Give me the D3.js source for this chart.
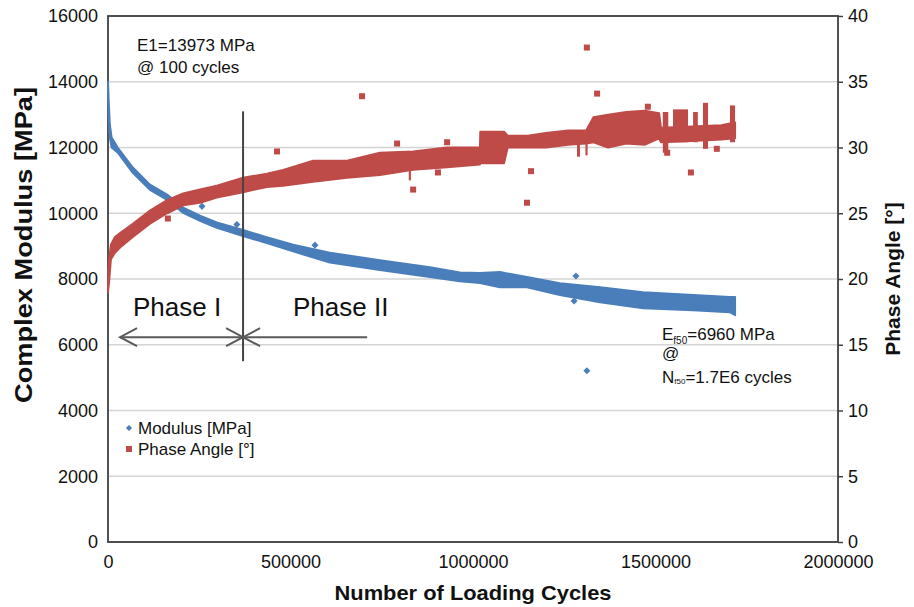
<!DOCTYPE html>
<html>
<head>
<meta charset="utf-8">
<script src="https://cdn.jsdelivr.net/npm/d3@7"></script>
<style>
  html, body { margin: 0; padding: 0; background: #fff; }
  svg text { font-family: "Liberation Sans", Arial, sans-serif; fill: #111; }
</style>
</head>
<body>
<svg id="chart" width="914" height="607"></svg>
<script>
// Fatigue test: complex modulus + phase angle vs loading cycles

// axis ticks
const cycleTicks = [0, 500000, 1000000, 1500000, 2000000];
const modulusTicks = [0, 2000, 4000, 6000, 8000, 10000, 12000, 14000, 16000];
const angleTicks = [0, 5, 10, 15, 20, 25, 30, 35, 40];

// modulus band: [cycles, low MPa, high MPa]
const modulusBand = [
    [0, 13700, 14000], [2000, 12900, 13400], [5000, 12300, 12700],
    [10000, 12000, 12300], [27000, 11840, 11990], [68000, 11230, 11390],
    [115000, 10710, 10870], [162000, 10410, 10570], [206000, 10010, 10170],
    [252000, 9770, 9930], [298000, 9560, 9720], [370000, 9310, 9490],
    [435000, 9090, 9270], [507000, 8840, 9040], [608000, 8500, 8800],
    [745000, 8270, 8570], [882000, 8060, 8360], [964000, 7930, 8200],
    [1019000, 7880, 8180], [1074000, 7750, 8210], [1148000, 7750, 8060],
    [1238000, 7510, 7870], [1348000, 7290, 7750], [1466000, 7110, 7600],
    [1603000, 7050, 7510], [1704000, 6990, 7450], [1718000, 6900, 7450]
];

// phase angle band: [cycles, low deg, high deg]
const phaseBand = [
    [0, 19.0, 19.6], [3000, 19.8, 21.5], [8000, 21.5, 22.6],
    [19000, 22.0, 23.2], [33000, 22.4, 23.5], [68000, 23.2, 24.2],
    [115000, 24.2, 25.2], [162000, 25.0, 26.0], [206000, 25.6, 26.5],
    [252000, 25.8, 26.8], [298000, 26.2, 27.1], [370000, 26.6, 27.7],
    [435000, 27.0, 28.0], [480000, 27.1, 28.3], [562000, 27.4, 29.0],
    [655000, 27.7, 29.0], [745000, 27.9, 29.6], [836000, 28.3, 29.7],
    [929000, 28.5, 30.0], [1019000, 28.7, 30.0], [1020000, 28.8, 31.2],
    [1085000, 28.8, 31.2], [1095000, 30.0, 30.9], [1150000, 30.0, 30.9],
    [1200000, 30.0, 31.1], [1260000, 30.2, 31.3], [1310000, 30.3, 31.3],
    [1330000, 30.4, 32.3], [1370000, 30.0, 32.5], [1420000, 30.3, 32.7],
    [1470000, 30.2, 32.8], [1510000, 30.7, 32.6], [1515000, 30.4, 31.5],
    [1600000, 30.5, 31.6], [1680000, 30.6, 31.7], [1718000, 30.7, 31.9]
];

// noisy bursts of the phase angle: [from cycles, to cycles, low deg, high deg]
const phaseSpikes = [
    [824000, 830000, 27.5, 29.0], [1285000, 1293000, 29.3, 30.5],
    [1308000, 1314000, 29.4, 30.5], [1520000, 1535000, 29.6, 32.7],
    [1548000, 1589000, 30.4, 32.9], [1603000, 1616000, 30.4, 32.7],
    [1630000, 1644000, 29.9, 33.4], [1704000, 1718000, 30.4, 33.2]
];

// scattered single points
const modulusOutliers = [
    [257500, 10210], [353000, 9660], [567000, 9030],
    [1282000, 8090], [1277000, 7330], [1312000, 5210]
];
const phaseOutliers = [
    [164000, 24.6], [463000, 29.7], [696000, 33.9], [792000, 30.3],
    [836000, 26.8], [904000, 28.1], [929000, 30.4], [1159000, 28.2],
    [1148000, 25.8], [1312000, 37.6], [1340000, 34.1], [1479000, 33.1],
    [1532000, 29.6], [1597000, 28.1], [1668000, 29.9]
];

const phaseBoundary = 370000;

const BLUE = '#4a7ebb';
const RED = '#be4b48';

const svg = d3.select('#chart');
const margin = {left: 108, right: 76, top: 16, bottom: 65};
const W = 914, H = 607;

const x = d3.scaleLinear().domain([0, 2000000]).range([margin.left, W - margin.right]);
const yL = d3.scaleLinear().domain([0, 16000]).range([H - margin.bottom, margin.top]);
const yR = d3.scaleLinear().domain([0, 40]).range([H - margin.bottom, margin.top]);

// gridlines
svg.append('g').selectAll('line')
    .data(modulusTicks)
    .enter().append('line')
    .attr('x1', x(0)).attr('x2', x(2000000))
    .attr('y1', d => yL(d)).attr('y2', d => yL(d))
    .attr('stroke', '#d4d4d4')
    .attr('stroke-width', 1.5);

// axes
const fmt = d3.format('d');
const gLeft = svg.append('g')
    .attr('transform', `translate(${margin.left},0)`)
    .call(d3.axisLeft(yL).tickValues(modulusTicks).tickSize(0).tickPadding(10).tickFormat(fmt));
const gRight = svg.append('g')
    .attr('transform', `translate(${W - margin.right},0)`)
    .call(d3.axisRight(yR).tickValues(angleTicks).tickSize(5).tickPadding(5).tickFormat(fmt));
const gBottom = svg.append('g')
    .attr('transform', `translate(0,${H - margin.bottom})`)
    .call(d3.axisBottom(x).tickValues(cycleTicks).tickSize(0).tickPadding(13).tickFormat(fmt));

[gLeft, gRight, gBottom].forEach(g => {
    g.select('.domain').remove();
    g.selectAll('text').style('font-size', '18px').attr('fill', '#111');
    g.selectAll('line').attr('stroke', '#404040').attr('stroke-width', 1.5);
});

// plot frame
svg.append('rect')
    .attr('x', x(0)).attr('y', yL(16000))
    .attr('width', x(2000000) - x(0))
    .attr('height', yL(0) - yL(16000))
    .attr('fill', 'none')
    .attr('stroke', '#404040')
    .attr('stroke-width', 1.8);

// modulus band
const modArea = d3.area()
    .x(d => x(d[0]))
    .y0(d => yL(d[1]))
    .y1(d => yL(d[2]));
svg.append('path')
    .datum(modulusBand)
    .attr('d', modArea)
    .attr('fill', BLUE)
    .attr('stroke', BLUE)
    .attr('stroke-width', 2)
    .attr('stroke-linejoin', 'round');

// phase band
const phaseArea = d3.area()
    .x(d => x(d[0]))
    .y0(d => yR(d[1]))
    .y1(d => yR(d[2]));
svg.append('path')
    .datum(phaseBand)
    .attr('d', phaseArea)
    .attr('fill', RED)
    .attr('stroke', RED)
    .attr('stroke-width', 2)
    .attr('stroke-linejoin', 'round');

svg.append('g').selectAll('rect')
    .data(phaseSpikes)
    .enter().append('rect')
    .attr('x', d => x(d[0]))
    .attr('width', d => Math.max(2, x(d[1]) - x(d[0])))
    .attr('y', d => yR(d[3]))
    .attr('height', d => yR(d[2]) - yR(d[3]))
    .attr('fill', RED);

// outlier markers (small diamonds / squares like the excel markers)
svg.append('g').selectAll('rect')
    .data(modulusOutliers)
    .enter().append('rect')
    .attr('x', -2.5).attr('y', -2.5)
    .attr('width', 5).attr('height', 5)
    .attr('transform', d => `translate(${x(d[0])},${yL(d[1])}) rotate(45)`)
    .attr('fill', BLUE);

svg.append('g').selectAll('rect')
    .data(phaseOutliers)
    .enter().append('rect')
    .attr('x', d => x(d[0]) - 3)
    .attr('y', d => yR(d[1]) - 3)
    .attr('width', 6).attr('height', 6)
    .attr('fill', RED);

// phase boundary + arrows
const arrowY = yL(6230);
const grey = '#5a5a5a';
svg.append('line')
    .attr('x1', x(phaseBoundary)).attr('x2', x(phaseBoundary))
    .attr('y1', yL(13100)).attr('y2', yL(5500))
    .attr('stroke', '#444').attr('stroke-width', 2);

function arrowLine(n0, n1, headLeft, headRight) {
    const x0 = x(n0), x1 = x(n1);
    svg.append('line')
        .attr('x1', x0).attr('x2', x1)
        .attr('y1', arrowY).attr('y2', arrowY)
        .attr('stroke', grey).attr('stroke-width', 2);
    const head = (px, dir) => {
        svg.append('polyline')
            .attr('points', `${px + dir * 17},${arrowY - 9} ${px},${arrowY} ${px + dir * 17},${arrowY + 9}`)
            .attr('fill', 'none')
            .attr('stroke', grey).attr('stroke-width', 2);
    };
    if (headLeft) head(x0, 1);
    if (headRight) head(x1, -1);
}
arrowLine(33000, phaseBoundary, true, true);
arrowLine(phaseBoundary, 710000, true, false);

svg.append('text').attr('x', 133).attr('y', 316)
    .style('font-size', '26px').text('Phase I');
svg.append('text').attr('x', 293).attr('y', 316)
    .style('font-size', '26px').text('Phase II');

// annotations
svg.append('text').attr('x', 137).attr('y', 51)
    .style('font-size', '17px').text('E1=13973 MPa');
svg.append('text').attr('x', 137).attr('y', 73)
    .style('font-size', '17px').text('@ 100 cycles');

const ef = svg.append('text').attr('x', 662).attr('y', 340).style('font-size', '17px');
ef.append('tspan').text('E');
ef.append('tspan').attr('dy', 4).style('font-size', '10px').text('f50');
ef.append('tspan').attr('dy', -4).text('=6960 MPa');
svg.append('text').attr('x', 662).attr('y', 359)
    .style('font-size', '17px').text('@');
const nf = svg.append('text').attr('x', 662).attr('y', 383).style('font-size', '17px');
nf.append('tspan').text('N');
nf.append('tspan').attr('dy', 1).style('font-size', '8px').text('f50');
nf.append('tspan').attr('dy', -1).text('=1.7E6 cycles');

// legend
const legend = svg.append('g');
legend.append('rect')
    .attr('x', -2.2).attr('y', -2.2).attr('width', 4.4).attr('height', 4.4)
    .attr('transform', 'translate(129,428) rotate(45)')
    .attr('fill', BLUE);
legend.append('text').attr('x', 138).attr('y', 434)
    .style('font-size', '17px').text('Modulus [MPa]');
legend.append('rect')
    .attr('x', 126).attr('y', 446).attr('width', 6).attr('height', 6)
    .attr('fill', RED);
legend.append('text').attr('x', 138).attr('y', 455)
    .style('font-size', '17px').text('Phase Angle [°]');

// axis titles
svg.append('text')
    .attr('transform', 'translate(32,245) rotate(-90)')
    .attr('text-anchor', 'middle')
    .attr('textLength', 316).attr('lengthAdjust', 'spacingAndGlyphs')
    .style('font-size', '24px').style('font-weight', 'bold')
    .text('Complex Modulus [MPa]');
svg.append('text')
    .attr('transform', 'translate(900,279) rotate(-90)')
    .attr('text-anchor', 'middle')
    .style('font-size', '21px').style('font-weight', 'bold')
    .text('Phase Angle [°]');
svg.append('text')
    .attr('x', 473).attr('y', 600)
    .attr('text-anchor', 'middle')
    .attr('textLength', 277).attr('lengthAdjust', 'spacingAndGlyphs')
    .style('font-size', '21px').style('font-weight', 'bold')
    .text('Number of Loading Cycles');
</script>
</body>
</html>
